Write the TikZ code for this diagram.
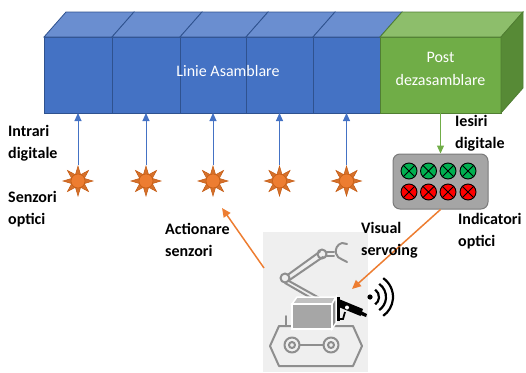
\documentclass[tikz,border=0pt]{standalone}
\usepackage{fontspec}
\setmainfont{Carlito}
\usetikzlibrary{shapes.geometric,arrows.meta}

\definecolor{bluefront}{HTML}{4472C4}
\definecolor{bluetop}{HTML}{6A8ED0}
\definecolor{blueedge}{HTML}{2F528F}
\definecolor{greenfront}{HTML}{70AD47}
\definecolor{greentop}{HTML}{8DBE6B}
\definecolor{greenside}{HTML}{578A36}
\definecolor{greenedge}{HTML}{507E32}
\definecolor{sunorange}{HTML}{ED7D31}
\definecolor{sundark}{HTML}{C55A11}
\definecolor{panelgray}{HTML}{A5A5A5}
\definecolor{paneledge}{HTML}{7A7A7A}
\definecolor{lampgreen}{HTML}{00B050}
\definecolor{lampred}{HTML}{FF0000}
\definecolor{robotbg}{HTML}{EFEFEF}
\definecolor{robotline}{HTML}{8E8E8E}
\definecolor{cargo}{HTML}{A6A6A6}

\tikzset{
  bluecube/.style={draw=blueedge, fill=bluefront, minimum height=76, inner sep=0, outer sep=0, line width=0.8},
  greencube/.style={draw=greenedge, fill=greenfront, minimum height=76, inner sep=0, outer sep=0, line width=0.8},
  boxtext/.style={text=white, font=\fontsize{16}{23}\selectfont, align=center},
  lbl/.style={font=\bfseries\fontsize{16}{22}\selectfont, align=left, anchor=west, inner sep=0},
  sun/.style={star, star points=8, star point ratio=2.2, minimum size=30, inner sep=0, fill=sunorange!90!black, draw=sundark, line width=0.5},
  suncore/.style={circle, minimum size=14, inner sep=0, fill=sunorange, draw=sundark, line width=0.5},
  bluearrow/.style={draw=bluefront, line width=1, -{Triangle[width=7pt,length=8pt]}},
  greenarrow/.style={draw=greenfront, line width=1.2, -{Triangle[width=7pt,length=8pt]}},
  orangearrow/.style={draw=sunorange, line width=1.5, -{Triangle[width=8pt,length=9pt]}},
  lamp/.style={circle, minimum size=16, inner sep=0, draw=black, line width=0.9},
  robotstroke/.style={draw=robotline, line width=2, line cap=round, line join=round}
}

\begin{document}
\begin{tikzpicture}[x=1pt, y=-1pt]
\useasboundingbox (0,0) rectangle (526,372);

% front faces of the assembly line stations
\node[bluecube, minimum width=68] (c1) at (78,75) {};
\node[bluecube, minimum width=68] (c2) at (146,75) {};
\node[bluecube, minimum width=66] (c3) at (213,75) {};
\node[bluecube, minimum width=67] (c4) at (279.5,75) {};
\node[bluecube, minimum width=67] (c5) at (346.5,75) {};
\node[greencube, minimum width=121] (g) at (440.5,75) {};

% top faces
\foreach \c/\w in {c1/68, c2/68, c3/66, c4/67, c5/67}
  \filldraw[fill=bluetop, draw=blueedge, line width=0.8]
    (\c.north west) -- ++(22,-25) -- ++(\w,0) -- (\c.north east) -- cycle;
\filldraw[fill=greentop, draw=greenedge, line width=0.8]
  (g.north west) -- ++(22,-25) -- ++(121,0) -- (g.north east) -- cycle;
% right side of the disassembly station
\filldraw[fill=greenside, draw=greenedge, line width=0.8]
  (g.north east) -- ++(22,-25) -- ++(0,76) -- (g.south east) -- cycle;

\node[boxtext] (linelbl) at (228,71) {Linie Asamblare};
\node[boxtext] (postlbl) at (440.5,69) {Post\\dezasamblare};

% optical sensors
\foreach \i/\x in {1/78, 2/146, 3/213, 4/279.5, 5/346.5} {
  \node[sun] (s\i) at (\x,181) {};
  \node[suncore] (k\i) at (s\i) {};
  \draw[bluearrow] (s\i.north) -- (c\i.south);
}

% indicator panel
\node[draw=paneledge, fill=panelgray, rounded corners=7, minimum width=95, minimum height=55, line width=1] (ind) at (440.5,181.5) {};
\foreach \j/\x in {1/409, 2/428.5, 3/448, 4/468} {
  \node[lamp, fill=lampgreen] (gl\j) at (\x,171) {};
  \node[lamp, fill=lampred] (rl\j) at (\x,192) {};
  \draw[black, line width=0.9] (gl\j.north east) -- (gl\j.south west) (gl\j.north west) -- (gl\j.south east);
  \draw[black, line width=0.9] (rl\j.north east) -- (rl\j.south west) (rl\j.north west) -- (rl\j.south east);
}
\draw[greenarrow] (g.south -| ind.north) -- (ind.north);

% mobile robot
\node[fill=robotbg, minimum width=105, minimum height=140, inner sep=0] (robot) at (315.5,302) {};
% tracks and wheels
\draw[robotstroke] (279,326) -- (353,326) -- (362,346) -- (353,366) -- (279,366) -- (270,346) -- cycle;
\draw[robotstroke] (286,326) -- (286,316);
\draw[robotstroke] (292,345) circle (7.5) (292,345) circle (3);
\draw[robotstroke] (331,345) circle (7.5) (331,345) circle (3);
\draw[robotstroke] (299.5,345) -- (323.5,345);
% arm
\draw[robotstroke] (287.5,275) -- (320,251.5) (289.5,280) -- (323,257);
\draw[robotstroke] (289,281) -- (323,300) (285,283) -- (318,302);
\draw[robotstroke] (285,278) circle (4.5);
\draw[robotstroke] (322,254) circle (4.5);
\draw[robotstroke] (326.5,252) -- (334,252) (326.5,256) -- (334,256);
\draw[robotstroke] (347,244) -- (342,243) arc[start angle=-105, end angle=-255, radius=8.5] -- (347,262);
% cargo box
\filldraw[fill=cargo!70!white, draw=white, line width=1.5] (292,304) -- (297,297) -- (336,297) -- (332,304) -- cycle;
\filldraw[fill=cargo, draw=white, line width=1.5] (292,304) rectangle (332,329);
\filldraw[fill=cargo!85!black, draw=white, line width=1.5] (332,304) -- (336,297) -- (336,323) -- (332,329) -- cycle;
% camera
\fill[black] (336.5,297) rectangle (339.5,321);
\draw[black, line width=1.8] (338,319) -- (343,319) -- (345,312);
\fill[black] (340,299.5) -- (363,309) -- (360.5,316) -- (338.5,307) -- cycle;
\fill[black] (361,311) -- (367,314) -- (366,317) -- (361,315) -- cycle;
\fill[white] (347,307.5) circle (2);
% wireless signal
\fill[black] (370,297) circle (2.6);
\foreach \r in {9,16,23}
  \draw[black, line width=2.2] (370,297) ++(-55:\r) arc[start angle=-55, end angle=55, radius=\r];

\coordinate (camtip) at (352,289);
\coordinate (robotleft) at (264,268);
\coordinate (sensortip) at (222,208);
\draw[orangearrow] (ind.south) -- (camtip);
\draw[orangearrow] (robotleft) -- (sensortip);

% labels
\node[lbl] (intr) at (8,143) {Intrari\\digitale};
\node[lbl] (senz) at (8,209) {Senzori\\optici};
\node[lbl] (ies) at (455,133) {Iesiri\\digitale};
\node[lbl] (indl) at (458,231) {Indicatori\\optici};
\node[lbl] (vis) at (361,240) {Visual\\servoing};
\node[lbl] (act) at (165,240) {Actionare\\senzori};
\end{tikzpicture}
\end{document}
